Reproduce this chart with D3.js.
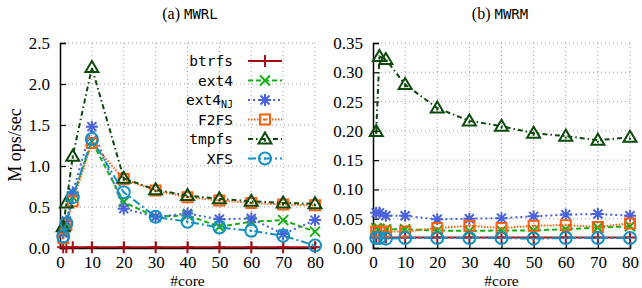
<!DOCTYPE html>
<html>
<head>
<meta charset="utf-8">
<script src="https://cdn.jsdelivr.net/npm/d3@7"></script>
<style>
  body { margin: 0; background: #fff; }
  svg { display: block; }
</style>
</head>
<body>
<svg id="chart" width="642" height="288"></svg>
<script>
// x positions (#core)
let cores = [1, 2, 4, 10, 20, 30, 40, 50, 60, 70, 80];
let fsNames = ["btrfs", "ext4", "ext4NJ", "F2FS", "tmpfs", "XFS"];

// (a) MWRL, M ops/sec
let mwrlBtrfs  = [0.01, 0.01, 0.01, 0.01, 0.01, 0.01, 0.01, 0.01, 0.01, 0.01, 0.01];
let mwrlExt4   = [0.20, 0.30, 0.62, 1.30, 0.56, 0.38, 0.40, 0.26, 0.32, 0.34, 0.20];
let mwrlExt4NJ = [0.18, 0.33, 0.68, 1.48, 0.48, 0.38, 0.42, 0.35, 0.36, 0.17, 0.34];
let mwrlF2FS   = [0.12, 0.28, 0.57, 1.28, 0.84, 0.70, 0.62, 0.58, 0.55, 0.53, 0.52];
let mwrlTmpfs  = [0.26, 0.55, 1.12, 2.20, 0.85, 0.71, 0.64, 0.60, 0.57, 0.55, 0.54];
let mwrlXFS    = [0.14, 0.30, 0.62, 1.33, 0.68, 0.38, 0.32, 0.25, 0.21, 0.15, 0.03];

// (b) MWRM, M ops/sec
let mwrmBtrfs  = [0.018, 0.018, 0.018, 0.018, 0.018, 0.018, 0.018, 0.018, 0.018, 0.018, 0.018];
let mwrmExt4   = [0.034, 0.033, 0.032, 0.032, 0.030, 0.029, 0.030, 0.030, 0.032, 0.035, 0.037];
let mwrmExt4NJ = [0.060, 0.060, 0.055, 0.055, 0.049, 0.050, 0.051, 0.054, 0.057, 0.058, 0.055];
let mwrmF2FS   = [0.028, 0.028, 0.028, 0.028, 0.034, 0.038, 0.034, 0.038, 0.039, 0.036, 0.042];
let mwrmTmpfs  = [0.199, 0.327, 0.322, 0.279, 0.239, 0.217, 0.208, 0.196, 0.191, 0.184, 0.189];
let mwrmXFS    = [0.017, 0.017, 0.016, 0.017, 0.017, 0.017, 0.017, 0.016, 0.017, 0.017, 0.017];

let xTicks = [0, 10, 20, 30, 40, 50, 60, 70, 80];
let yTicksL = [0, 0.5, 1.0, 1.5, 2.0, 2.5];
let yTicksR = [0, 0.05, 0.10, 0.15, 0.20, 0.25, 0.30, 0.35];

// style per file system
let styles = {
    btrfs:  { color: "#a80f14", dash: null,          marker: "plus" },
    ext4:   { color: "#14b014", dash: "5,3",         marker: "cross" },
    ext4NJ: { color: "#4a63dc", dash: "2,3",         marker: "star" },
    F2FS:   { color: "#ff5f0f", dash: "1.5,1.5",     marker: "square" },
    tmpfs:  { color: "#0b4a0b", dash: "5,3,1.5,3",   marker: "triangle" },
    XFS:    { color: "#1190c4", dash: "8,3,2,3",     marker: "circle" }
};

let serif = "Liberation Serif, DejaVu Serif, serif";
let mono = "DejaVu Sans Mono, Liberation Mono, monospace";

let svg = d3.select("#chart");

// draws one marker centered at (x, y)
let drawMarker = function (g, type, x, y, color) {
    let s = 6;
    let p = g.append("path")
        .attr("fill", "none")
        .attr("stroke", color)
        .attr("stroke-width", 2);
    if (type === "plus") {
        p.attr("d", `M${x - s},${y}H${x + s}M${x},${y - s}V${y + s}`);
    } else if (type === "cross") {
        p.attr("d", `M${x - 5},${y - 5}L${x + 5},${y + 5}M${x - 5},${y + 5}L${x + 5},${y - 5}`);
    } else if (type === "star") {
        p.attr("d", `M${x - s},${y}H${x + s}M${x},${y - s}V${y + s}` +
            `M${x - 4.5},${y - 4.5}L${x + 4.5},${y + 4.5}M${x - 4.5},${y + 4.5}L${x + 4.5},${y - 4.5}`);
    } else if (type === "square") {
        p.attr("d", `M${x - 5},${y - 5}h10v10h-10Z`);
        g.append("rect").attr("x", x - 1).attr("y", y - 1).attr("width", 2).attr("height", 2).attr("fill", color);
    } else if (type === "triangle") {
        p.attr("d", `M${x},${y - 6.5}L${x + 6.5},${y + 4.5}L${x - 6.5},${y + 4.5}Z`);
        g.append("rect").attr("x", x - 1).attr("y", y + 0.5).attr("width", 2).attr("height", 2).attr("fill", color);
    } else if (type === "circle") {
        g.append("circle").attr("cx", x).attr("cy", y).attr("r", 6)
            .attr("fill", "none").attr("stroke", color).attr("stroke-width", 2);
        g.append("rect").attr("x", x - 1).attr("y", y - 1).attr("width", 2).attr("height", 2).attr("fill", color);
    }
}

let drawPanel = function (opts) {
    let x = d3.scaleLinear().domain([0, 80]).range([opts.left, opts.right]);
    let y = d3.scaleLinear().domain([0, opts.yMax]).range([248, 43]);

    let g = svg.append("g");

    // grid
    g.append("g").selectAll("line").data(xTicks.slice(1)).enter().append("line")
        .attr("x1", d => x(d)).attr("x2", d => x(d))
        .attr("y1", y(0)).attr("y2", y(opts.yMax))
        .attr("stroke", "#a0a0a0").attr("stroke-width", 1).attr("stroke-dasharray", "1,3");
    g.append("g").selectAll("line").data(opts.yTicks.slice(1)).enter().append("line")
        .attr("x1", x(0)).attr("x2", x(80))
        .attr("y1", d => y(d)).attr("y2", d => y(d))
        .attr("stroke", "#a0a0a0").attr("stroke-width", 1).attr("stroke-dasharray", "1,3");

    // axes, inward ticks
    let xAxis = g.append("g").attr("transform", `translate(0,${y(0)})`)
        .call(d3.axisBottom(x).tickValues(xTicks).tickSize(-6).tickPadding(8).tickFormat(d3.format("d")));
    let yAxis = g.append("g").attr("transform", `translate(${x(0)},0)`)
        .call(d3.axisLeft(y).tickValues(opts.yTicks).tickSize(-6).tickPadding(10).tickFormat(d3.format(opts.fmt)));
    [xAxis, yAxis].forEach(a => {
        a.attr("font-family", serif).attr("font-size", 17);
        a.select(".domain").attr("stroke", "#000").attr("stroke-width", 1.5);
        a.selectAll(".tick line").attr("stroke", "#000").attr("stroke-width", 1.2);
        a.selectAll(".tick text").attr("fill", "#000");
    });
    xAxis.selectAll(".tick line").filter(d => d === 0).remove();
    yAxis.selectAll(".tick line").filter(d => d === 0).remove();

    // x label
    g.append("text").attr("x", (opts.left + opts.right) / 2).attr("y", 285.5)
        .attr("text-anchor", "middle").attr("font-family", serif).attr("font-size", 15.5)
        .text("#core");

    // title
    let t = g.append("text").attr("x", opts.titleX).attr("y", 19)
        .attr("text-anchor", "middle").attr("font-size", 16);
    t.append("tspan").attr("font-family", serif).text(opts.titleA + " ");
    t.append("tspan").attr("font-family", mono).attr("font-size", 14).text(opts.titleB);

    // series
    let line = d3.line().x((d, i) => x(cores[i])).y(d => y(d));
    fsNames.forEach((name, k) => {
        let st = styles[name];
        let vals = opts.series[k];
        let sg = g.append("g");
        sg.append("path").datum(vals).attr("d", line)
            .attr("fill", "none").attr("stroke", st.color).attr("stroke-width", 2)
            .attr("stroke-dasharray", st.dash);
        vals.forEach((v, i) => drawMarker(sg, st.marker, x(cores[i]), y(v), st.color));
    });
}

drawPanel({
    left: 60, right: 315, yMax: 2.5, yTicks: yTicksL, fmt: ".1f",
    titleX: 190, titleA: "(a)", titleB: "MWRL",
    series: [mwrlBtrfs, mwrlExt4, mwrlExt4NJ, mwrlF2FS, mwrlTmpfs, mwrlXFS]
});
drawPanel({
    left: 373, right: 630, yMax: 0.35, yTicks: yTicksR, fmt: ".2f",
    titleX: 500, titleA: "(b)", titleB: "MWRM",
    series: [mwrmBtrfs, mwrmExt4, mwrmExt4NJ, mwrmF2FS, mwrmTmpfs, mwrmXFS]
});

// y label
svg.append("text")
    .attr("transform", "translate(21,145) rotate(-90)")
    .attr("text-anchor", "middle")
    .attr("font-family", serif).attr("font-size", 18)
    .text("M ops/sec");

// legend
let legend = svg.append("g");
fsNames.forEach((name, k) => {
    let st = styles[name];
    let ly = 61 + k * 19.5;
    let txt = legend.append("text").attr("x", 233).attr("y", ly + 5)
        .attr("text-anchor", "end").attr("font-family", mono).attr("font-size", 14.5);
    if (name === "ext4NJ") {
        txt.append("tspan").text("ext4");
        txt.append("tspan").attr("dy", 3).attr("font-size", 10).text("NJ");
    } else {
        txt.text(name);
    }
    legend.append("line").attr("x1", 248).attr("x2", 282).attr("y1", ly).attr("y2", ly)
        .attr("stroke", st.color).attr("stroke-width", 2).attr("stroke-dasharray", st.dash);
    drawMarker(legend, st.marker, 265, ly, st.color);
});
</script>
</body>
</html>
